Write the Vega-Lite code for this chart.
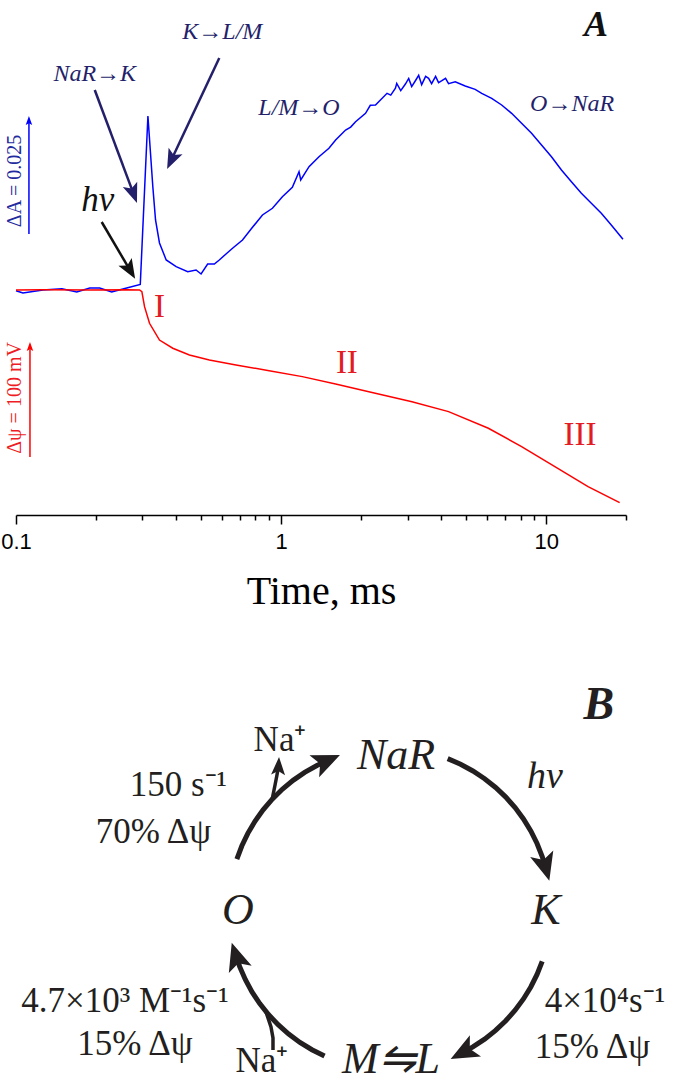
{
  "$schema": "https://vega.github.io/schema/vega-lite/v6.json",
  "width": 610,
  "height": 515,
  "autosize": {"type": "none"},
  "padding": {"left": 16, "top": 0, "right": 49, "bottom": 567},
  "background": "white",
  "config": {"view": {"stroke": null}},
  "resolve": {"scale": {"x": "independent", "y": "independent"}, "axis": {"x": "independent", "y": "independent"}},
  "layer": [
    {
      "data": {"values": [
        {"t":0.1,"v":-0.00015},{"t":0.1062,"v":-0.00065},{"t":0.1264,"v":0},{"t":0.149,"v":0.00028},{"t":0.1696,"v":-0.00043},{"t":0.1898,"v":0.00043},{"t":0.2069,"v":0.00043},{"t":0.2296,"v":-0.00043},{"t":0.2615,"v":0.00043},{"t":0.2943,"v":0.00119},{"t":0.3145,"v":0.0375},{"t":0.3282,"v":0.02226},{"t":0.336,"v":0.01509},{"t":0.3477,"v":0.01013},{"t":0.3686,"v":0.00647},{"t":0.4019,"v":0.00502},{"t":0.4444,"v":0.00394},{"t":0.4778,"v":0.00431},{"t":0.499,"v":0.00345},{"t":0.5284,"v":0.0056},{"t":0.5601,"v":0.0056},{"t":0.5846,"v":0.00647},{"t":0.6197,"v":0.00776},{"t":0.6559,"v":0.00899},{"t":0.7152,"v":0.01078},{"t":0.78,"v":0.01351},{"t":0.8506,"v":0.01616},{"t":0.9275,"v":0.01761},{"t":1.0113,"v":0.02011},{"t":1.1027,"v":0.02213},{"t":1.1685,"v":0.02549},{"t":1.1858,"v":0.02371},{"t":1.2744,"v":0.02657},{"t":1.3895,"v":0.02873},{"t":1.5152,"v":0.03054},{"t":1.6057,"v":0.03233},{"t":1.751,"v":0.03448},{"t":1.83,"v":0.0351},{"t":1.9094,"v":0.03627},{"t":2.082,"v":0.03808},{"t":2.17,"v":0.0398},{"t":2.2702,"v":0.03987},{"t":2.5097,"v":0.04239},{"t":2.592,"v":0.04201},{"t":2.6997,"v":0.04347},{"t":2.7302,"v":0.04452},{"t":2.8264,"v":0.04297},{"t":2.9439,"v":0.04439},{"t":3.0291,"v":0.0456},{"t":3.1089,"v":0.04383},{"t":3.2102,"v":0.0451},{"t":3.3033,"v":0.04625},{"t":3.3901,"v":0.04426},{"t":3.5093,"v":0.04603},{"t":3.6011,"v":0.04562},{"t":3.6961,"v":0.04448},{"t":3.8264,"v":0.04603},{"t":3.927,"v":0.04469},{"t":4.0408,"v":0.0451},{"t":4.1724,"v":0.0456},{"t":4.2821,"v":0.04448},{"t":4.5378,"v":0.04489},{"t":4.9478,"v":0.04396},{"t":5.395,"v":0.04325},{"t":5.7122,"v":0.04239},{"t":6.2286,"v":0.04131},{"t":6.7915,"v":0.03987},{"t":7.4057,"v":0.03808},{"t":8.0752,"v":0.03592},{"t":8.8055,"v":0.03377},{"t":9.6015,"v":0.03125},{"t":10.469,"v":0.02873},{"t":11.416,"v":0.02586},{"t":12.447,"v":0.02334},{"t":13.573,"v":0.02084},{"t":14.8,"v":0.01868},{"t":16.138,"v":0.01653},{"t":17.598,"v":0.01401},{"t":19.48,"v":0.01093}
      ]},
      "mark": {"type": "line", "color": "#0000ff", "strokeWidth": 1.5},
      "encoding": {
        "x": {"field": "t", "type": "quantitative", "scale": {"type": "log", "domain": [0.1, 20], "nice": false},
          "axis": {
            "orient": "bottom",
            "values": [0.1, 1, 10],
            "labelExpr": "datum.value == 0.1 ? '0.1' : (datum.value == 1 ? '1' : '10')",
            "tickSize": 9,
            "tickColor": "black", "tickWidth": 1.5, "domainColor": "black", "domainWidth": 1.5,
            "labelFont": "Liberation Sans", "labelFontSize": 22, "labelColor": "black", "labelPadding": 7,
            "labelFlush": false, "labelOverlap": false, "grid": false,
            "title": "Time, ms", "titleFont": "Liberation Serif", "titleFontSize": 40, "titleFontWeight": "normal",
            "titleColor": "black", "titlePadding": 19
          }},
        "y": {"field": "v", "type": "quantitative", "scale": {"domain": [-0.0485, 0.0625], "nice": false, "zero": false}, "axis": null}
      }
    },
    {
      "data": {"values": [
        {"t":0.1,"mv":0},{"t":0.1264,"mv":0.3},{"t":0.1898,"mv":0},{"t":0.2615,"mv":0.3},{"t":0.2925,"mv":0},{"t":0.2984,"mv":-1.5},{"t":0.3054,"mv":-14.6},{"t":0.3189,"mv":-29.2},{"t":0.3477,"mv":-43.9},{"t":0.3903,"mv":-51.1},{"t":0.451,"mv":-57.0},{"t":0.5362,"mv":-61.4},{"t":0.6757,"mv":-65.8},{"t":0.9014,"mv":-70.8},{"t":1.2025,"mv":-76.0},{"t":1.6057,"mv":-82.4},{"t":2.1424,"mv":-89.2},{"t":3.117,"mv":-98.0},{"t":4.2821,"mv":-106.7},{"t":6.052,"mv":-121.3},{"t":8.0752,"mv":-137.4},{"t":10.783,"mv":-155.0},{"t":14.383,"mv":-172.5},{"t":18.927,"mv":-186.5}
      ]},
      "mark": {"type": "line", "color": "#ff0000", "strokeWidth": 1.5},
      "encoding": {
        "x": {"field": "t", "type": "quantitative", "scale": {"type": "log", "domain": [0.1, 20], "nice": false},
          "axis": {
            "orient": "bottom",
            "values": [0.2,0.3,0.4,0.5,0.6,0.7,0.8,0.9,2,3,4,5,6,7,8,9,20],
            "labels": false, "domain": false, "grid": false, "title": null,
            "tickSize": 5, "tickColor": "black", "tickWidth": 1.5
          }},
        "y": {"field": "mv", "type": "quantitative", "scale": {"domain": [-197.4, 254.4], "nice": false, "zero": false}, "axis": null}
      }
    },
    {
      "data": {"values": [
        {"t":0.6,"v":0.0556,"s":"K→L/M"},
        {"t":0.1982,"v":0.04655,"s":"NaR→K"},
        {"t":1.1685,"v":0.03922,"s":"L/M→O"},
        {"t":12.523,"v":0.04008,"s":"O→NaR"}
      ]},
      "mark": {"type": "text", "font": "Liberation Serif", "fontStyle": "italic", "fontSize": 24, "color": "#241f6b", "align": "center", "baseline": "middle"},
      "encoding": {
        "x": {"field": "t", "type": "quantitative", "scale": {"type": "log", "domain": [0.1, 20], "nice": false}, "axis": null},
        "y": {"field": "v", "type": "quantitative", "scale": {"domain": [-0.0485, 0.0625], "nice": false, "zero": false}, "axis": null},
        "text": {"field": "s"}
      }
    },
    {
      "data": {"values": [{"t":0.2034,"v":0.0194,"s":"hν"}]},
      "mark": {"type": "text", "font": "Liberation Serif", "fontStyle": "italic", "fontSize": 35, "color": "#111111", "align": "center", "baseline": "middle"},
      "encoding": {
        "x": {"field": "t", "type": "quantitative", "scale": {"type": "log", "domain": [0.1, 20], "nice": false}, "axis": null},
        "y": {"field": "v", "type": "quantitative", "scale": {"domain": [-0.0485, 0.0625], "nice": false, "zero": false}, "axis": null},
        "text": {"field": "s"}
      }
    },
    {
      "data": {"values": [{"t":15.415,"v":0.05711,"s":"A"}]},
      "mark": {"type": "text", "font": "Liberation Serif", "fontStyle": "italic", "fontWeight": "bold", "fontSize": 36, "color": "#111111", "align": "center", "baseline": "middle"},
      "encoding": {
        "x": {"field": "t", "type": "quantitative", "scale": {"type": "log", "domain": [0.1, 20], "nice": false}, "axis": null},
        "y": {"field": "v", "type": "quantitative", "scale": {"domain": [-0.0485, 0.0625], "nice": false, "zero": false}, "axis": null},
        "text": {"field": "s"}
      }
    },
    {
      "data": {"values": [{"t":0.09914,"v":0.02349,"s":"ΔA = 0.025"}]},
      "mark": {"type": "text", "font": "Liberation Serif", "fontSize": 20, "color": "#1f2b9e", "align": "center", "baseline": "middle", "angle": 270},
      "encoding": {
        "x": {"field": "t", "type": "quantitative", "scale": {"type": "log", "domain": [0.1, 20], "nice": false}, "axis": null},
        "y": {"field": "v", "type": "quantitative", "scale": {"domain": [-0.0485, 0.0625], "nice": false, "zero": false}, "axis": null},
        "text": {"field": "s"}
      }
    },
    {
      "data": {"values": [{"t":0.1119,"v":0.01207,"v2":0.0362}]},
      "mark": {"type": "rule", "color": "#0000ff", "strokeWidth": 1.5},
      "encoding": {
        "x": {"field": "t", "type": "quantitative", "scale": {"type": "log", "domain": [0.1, 20], "nice": false}, "axis": null},
        "y": {"field": "v", "type": "quantitative", "scale": {"domain": [-0.0485, 0.0625], "nice": false, "zero": false}, "axis": null},
        "y2": {"field": "v2"}
      }
    },
    {
      "data": {"values": [{"t":0.1119,"v":0.03642}]},
      "mark": {"type": "point", "shape": "M0,-1L0.65,0.8L0,0.45L-0.65,0.8Z", "filled": true, "size": 100, "angle": 0, "color": "#0000ff", "opacity": 1},
      "encoding": {
        "x": {"field": "t", "type": "quantitative", "scale": {"type": "log", "domain": [0.1, 20], "nice": false}, "axis": null},
        "y": {"field": "v", "type": "quantitative", "scale": {"domain": [-0.0485, 0.0625], "nice": false, "zero": false}, "axis": null}
      }
    },
    {
      "data": {"values": [
        {"t":0.1982,"v":0.0431,"t2":0.2765,"v2":0.02099},
        {"t":0.5846,"v":0.05,"t2":0.387,"v2":0.02823}
      ]},
      "mark": {"type": "rule", "color": "#241f6b", "strokeWidth": 2.5},
      "encoding": {
        "x": {"field": "t", "type": "quantitative", "scale": {"type": "log", "domain": [0.1, 20], "nice": false}, "axis": null},
        "x2": {"field": "t2"},
        "y": {"field": "v", "type": "quantitative", "scale": {"domain": [-0.0485, 0.0625], "nice": false, "zero": false}, "axis": null},
        "y2": {"field": "v2"}
      }
    },
    {
      "data": {"values": [{"t":0.2105,"v":0.01465,"t2":0.2681,"v2":0.00444}]},
      "mark": {"type": "rule", "color": "#111111", "strokeWidth": 2.5},
      "encoding": {
        "x": {"field": "t", "type": "quantitative", "scale": {"type": "log", "domain": [0.1, 20], "nice": false}, "axis": null},
        "x2": {"field": "t2"},
        "y": {"field": "v", "type": "quantitative", "scale": {"domain": [-0.0485, 0.0625], "nice": false, "zero": false}, "axis": null},
        "y2": {"field": "v2"}
      }
    },
    {
      "data": {"values": [{"t":0.2765,"v":0.02099}]},
      "mark": {"type": "point", "shape": "M0,-1L0.7,0.8L0,0.4L-0.7,0.8Z", "filled": true, "size": 484, "angle": 159.4, "color": "#241f6b", "opacity": 1},
      "encoding": {
        "x": {"field": "t", "type": "quantitative", "scale": {"type": "log", "domain": [0.1, 20], "nice": false}, "axis": null},
        "y": {"field": "v", "type": "quantitative", "scale": {"domain": [-0.0485, 0.0625], "nice": false, "zero": false}, "axis": null}
      }
    },
    {
      "data": {"values": [{"t":0.387,"v":0.02823}]},
      "mark": {"type": "point", "shape": "M0,-1L0.7,0.8L0,0.4L-0.7,0.8Z", "filled": true, "size": 484, "angle": 205.3, "color": "#241f6b", "opacity": 1},
      "encoding": {
        "x": {"field": "t", "type": "quantitative", "scale": {"type": "log", "domain": [0.1, 20], "nice": false}, "axis": null},
        "y": {"field": "v", "type": "quantitative", "scale": {"domain": [-0.0485, 0.0625], "nice": false, "zero": false}, "axis": null}
      }
    },
    {
      "data": {"values": [{"t":0.2681,"v":0.00444}]},
      "mark": {"type": "point", "shape": "M0,-1L0.7,0.8L0,0.4L-0.7,0.8Z", "filled": true, "size": 484, "angle": 149.5, "color": "#111111", "opacity": 1},
      "encoding": {
        "x": {"field": "t", "type": "quantitative", "scale": {"type": "log", "domain": [0.1, 20], "nice": false}, "axis": null},
        "y": {"field": "v", "type": "quantitative", "scale": {"domain": [-0.0485, 0.0625], "nice": false, "zero": false}, "axis": null}
      }
    },
    {
      "data": {"values": [
        {"t":0.3477,"mv":-14.9,"s":"I"},
        {"t":1.7705,"mv":-64.0,"s":"II"},
        {"t":13.421,"mv":-127.2,"s":"III"}
      ]},
      "mark": {"type": "text", "font": "Liberation Serif", "fontSize": 33, "color": "#e31b23", "align": "center", "baseline": "middle"},
      "encoding": {
        "x": {"field": "t", "type": "quantitative", "scale": {"type": "log", "domain": [0.1, 20], "nice": false}, "axis": null},
        "y": {"field": "mv", "type": "quantitative", "scale": {"domain": [-197.4, 254.4], "nice": false, "zero": false}, "axis": null},
        "text": {"field": "s"}
      }
    },
    {
      "data": {"values": [{"t":0.09914,"mv":-94.7,"s":"Δψ = 100 mV"}]},
      "mark": {"type": "text", "font": "Liberation Serif", "fontSize": 20, "color": "#ee1c24", "align": "center", "baseline": "middle", "angle": 270},
      "encoding": {
        "x": {"field": "t", "type": "quantitative", "scale": {"type": "log", "domain": [0.1, 20], "nice": false}, "axis": null},
        "y": {"field": "mv", "type": "quantitative", "scale": {"domain": [-197.4, 254.4], "nice": false, "zero": false}, "axis": null},
        "text": {"field": "s"}
      }
    },
    {
      "data": {"values": [{"t":0.1129,"mv":-146.5,"mv2":-52}]},
      "mark": {"type": "rule", "color": "#ff0000", "strokeWidth": 1.5},
      "encoding": {
        "x": {"field": "t", "type": "quantitative", "scale": {"type": "log", "domain": [0.1, 20], "nice": false}, "axis": null},
        "y": {"field": "mv", "type": "quantitative", "scale": {"domain": [-197.4, 254.4], "nice": false, "zero": false}, "axis": null},
        "y2": {"field": "mv2"}
      }
    },
    {
      "data": {"values": [{"t":0.1129,"mv":-50.0}]},
      "mark": {"type": "point", "shape": "M0,-1L0.65,0.8L0,0.45L-0.65,0.8Z", "filled": true, "size": 100, "angle": 0, "color": "#ff0000", "opacity": 1},
      "encoding": {
        "x": {"field": "t", "type": "quantitative", "scale": {"type": "log", "domain": [0.1, 20], "nice": false}, "axis": null},
        "y": {"field": "mv", "type": "quantitative", "scale": {"domain": [-197.4, 254.4], "nice": false, "zero": false}, "axis": null}
      }
    },
    {
      "data": {"values": [
        {"arc":1,"i":0,"u":0.3584,"v":0.9336},{"arc":1,"i":1,"u":0.4384,"v":0.8988},{"arc":1,"i":2,"u":0.515,"v":0.8572},{"arc":1,"i":3,"u":0.5878,"v":0.809},{"arc":1,"i":4,"u":0.6561,"v":0.7547},{"arc":1,"i":5,"u":0.7193,"v":0.6947},{"arc":1,"i":6,"u":0.7771,"v":0.6293},{"arc":1,"i":7,"u":0.829,"v":0.5592},{"arc":1,"i":8,"u":0.8746,"v":0.4848},{"arc":1,"i":9,"u":0.9135,"v":0.4067},{"arc":1,"i":10,"u":0.9455,"v":0.3256},{"arc":1,"i":11,"u":0.9659,"v":0.2588},
        {"arc":2,"i":0,"u":0.9455,"v":-0.3256},{"arc":2,"i":1,"u":0.9135,"v":-0.4067},{"arc":2,"i":2,"u":0.8746,"v":-0.4848},{"arc":2,"i":3,"u":0.829,"v":-0.5592},{"arc":2,"i":4,"u":0.7771,"v":-0.6293},{"arc":2,"i":5,"u":0.7193,"v":-0.6947},{"arc":2,"i":6,"u":0.6561,"v":-0.7547},{"arc":2,"i":7,"u":0.5878,"v":-0.809},{"arc":2,"i":8,"u":0.515,"v":-0.8572},{"arc":2,"i":9,"u":0.454,"v":-0.891},
        {"arc":3,"i":0,"u":-0.4067,"v":-0.9135},{"arc":3,"i":1,"u":-0.4848,"v":-0.8746},{"arc":3,"i":2,"u":-0.5592,"v":-0.829},{"arc":3,"i":3,"u":-0.6293,"v":-0.7771},{"arc":3,"i":4,"u":-0.6947,"v":-0.7193},{"arc":3,"i":5,"u":-0.7547,"v":-0.6561},{"arc":3,"i":6,"u":-0.809,"v":-0.5878},{"arc":3,"i":7,"u":-0.8572,"v":-0.515},{"arc":3,"i":8,"u":-0.8988,"v":-0.4384},{"arc":3,"i":9,"u":-0.9336,"v":-0.3584},{"arc":3,"i":10,"u":-0.9563,"v":-0.2924},
        {"arc":4,"i":0,"u":-0.9511,"v":0.309},{"arc":4,"i":1,"u":-0.9205,"v":0.3907},{"arc":4,"i":2,"u":-0.8829,"v":0.4695},{"arc":4,"i":3,"u":-0.8387,"v":0.5446},{"arc":4,"i":4,"u":-0.788,"v":0.6157},{"arc":4,"i":5,"u":-0.7314,"v":0.682},{"arc":4,"i":6,"u":-0.6691,"v":0.7431},{"arc":4,"i":7,"u":-0.6018,"v":0.7986},{"arc":4,"i":8,"u":-0.5299,"v":0.848},{"arc":4,"i":9,"u":-0.454,"v":0.891},{"arc":4,"i":10,"u":-0.3907,"v":0.9205}
      ]},
      "mark": {"type": "line", "color": "#231f20", "strokeWidth": 5},
      "encoding": {
        "x": {"field": "u", "type": "quantitative", "scale": {"domain": [-2.323, 1.466], "nice": false, "zero": false}, "axis": null},
        "y": {"field": "v", "type": "quantitative", "scale": {"domain": [2.447, 5.646], "nice": false, "zero": false}, "axis": null},
        "detail": {"field": "arc"},
        "order": {"field": "i"}
      }
    },
    {
      "data": {"values": [
        {"b":1,"i":0,"u":-0.7317,"v":0.682},{"b":1,"i":1,"u":-0.714,"v":0.77},{"b":1,"i":2,"u":-0.702,"v":0.832},{"b":1,"i":3,"u":-0.695,"v":0.87},
        {"b":2,"i":0,"u":-0.7267,"v":-0.8758},{"b":2,"i":1,"u":-0.7267,"v":-0.8012},{"b":2,"i":2,"u":-0.7391,"v":-0.7329},{"b":2,"i":3,"u":-0.7578,"v":-0.677},{"b":2,"i":4,"u":-0.77,"v":-0.64}
      ]},
      "mark": {"type": "line", "color": "#231f20", "strokeWidth": 3.5},
      "encoding": {
        "x": {"field": "u", "type": "quantitative", "scale": {"domain": [-2.323, 1.466], "nice": false, "zero": false}, "axis": null},
        "y": {"field": "v", "type": "quantitative", "scale": {"domain": [2.447, 5.646], "nice": false, "zero": false}, "axis": null},
        "detail": {"field": "b"},
        "order": {"field": "i"}
      }
    },
    {
      "data": {"values": [{"u":0.9627,"v":0.2706}]},
      "mark": {"type": "point", "shape": "M0,-1L0.75,0.75L0,0.35L-0.75,0.75Z", "filled": true, "size": 1024, "angle": 164.3, "color": "#231f20", "opacity": 1},
      "encoding": {
        "x": {"field": "u", "type": "quantitative", "scale": {"domain": [-2.323, 1.466], "nice": false, "zero": false}, "axis": null},
        "y": {"field": "v", "type": "quantitative", "scale": {"domain": [2.447, 5.646], "nice": false, "zero": false}, "axis": null}
      }
    },
    {
      "data": {"values": [{"u":0.4648,"v":-0.8854}]},
      "mark": {"type": "point", "shape": "M0,-1L0.75,0.75L0,0.35L-0.75,0.75Z", "filled": true, "size": 1024, "angle": 242.3, "color": "#231f20", "opacity": 1},
      "encoding": {
        "x": {"field": "u", "type": "quantitative", "scale": {"domain": [-2.323, 1.466], "nice": false, "zero": false}, "axis": null},
        "y": {"field": "v", "type": "quantitative", "scale": {"domain": [2.447, 5.646], "nice": false, "zero": false}, "axis": null}
      }
    },
    {
      "data": {"values": [{"u":-0.9527,"v":-0.304}]},
      "mark": {"type": "point", "shape": "M0,-1L0.75,0.75L0,0.35L-0.75,0.75Z", "filled": true, "size": 1024, "angle": 342.3, "color": "#231f20", "opacity": 1},
      "encoding": {
        "x": {"field": "u", "type": "quantitative", "scale": {"domain": [-2.323, 1.466], "nice": false, "zero": false}, "axis": null},
        "y": {"field": "v", "type": "quantitative", "scale": {"domain": [2.447, 5.646], "nice": false, "zero": false}, "axis": null}
      }
    },
    {
      "data": {"values": [{"u":-0.4019,"v":0.9157}]},
      "mark": {"type": "point", "shape": "M0,-1L0.75,0.75L0,0.35L-0.75,0.75Z", "filled": true, "size": 1024, "angle": 66.3, "color": "#231f20", "opacity": 1},
      "encoding": {
        "x": {"field": "u", "type": "quantitative", "scale": {"domain": [-2.323, 1.466], "nice": false, "zero": false}, "axis": null},
        "y": {"field": "v", "type": "quantitative", "scale": {"domain": [2.447, 5.646], "nice": false, "zero": false}, "axis": null}
      }
    },
    {
      "data": {"values": [{"u":-0.6925,"v":0.882}]},
      "mark": {"type": "point", "shape": "M0,-1L0.7,0.8L0,0.4L-0.7,0.8Z", "filled": true, "size": 400, "angle": 3, "color": "#231f20", "opacity": 1},
      "encoding": {
        "x": {"field": "u", "type": "quantitative", "scale": {"domain": [-2.323, 1.466], "nice": false, "zero": false}, "axis": null},
        "y": {"field": "v", "type": "quantitative", "scale": {"domain": [2.447, 5.646], "nice": false, "zero": false}, "axis": null}
      }
    },
    {
      "data": {"values": [
        {"u":0.0373,"v":0.9503,"s":"NaR"},
        {"u":0.969,"v":-0.0124,"s":"K"},
        {"u":-0.944,"v":-0.0124,"s":"O"},
        {"u":0.0062,"v":-0.938,"s":"M⇋L"}
      ]},
      "mark": {"type": "text", "font": "Liberation Serif", "fontStyle": "italic", "fontSize": 44, "color": "#231f20", "align": "center", "baseline": "middle"},
      "encoding": {
        "x": {"field": "u", "type": "quantitative", "scale": {"domain": [-2.323, 1.466], "nice": false, "zero": false}, "axis": null},
        "y": {"field": "v", "type": "quantitative", "scale": {"domain": [2.447, 5.646], "nice": false, "zero": false}, "axis": null},
        "text": {"field": "s"}
      }
    },
    {
      "data": {"values": [{"u":0.963,"v":0.82,"s":"hν"}]},
      "mark": {"type": "text", "font": "Liberation Serif", "fontStyle": "italic", "fontSize": 38, "color": "#231f20", "align": "center", "baseline": "middle"},
      "encoding": {
        "x": {"field": "u", "type": "quantitative", "scale": {"domain": [-2.323, 1.466], "nice": false, "zero": false}, "axis": null},
        "y": {"field": "v", "type": "quantitative", "scale": {"domain": [2.447, 5.646], "nice": false, "zero": false}, "axis": null},
        "text": {"field": "s"}
      }
    },
    {
      "data": {"values": [{"u":1.298,"v":1.267,"s":"B"}]},
      "mark": {"type": "text", "font": "Liberation Serif", "fontStyle": "italic", "fontWeight": "bold", "fontSize": 46, "color": "#231f20", "align": "center", "baseline": "middle"},
      "encoding": {
        "x": {"field": "u", "type": "quantitative", "scale": {"domain": [-2.323, 1.466], "nice": false, "zero": false}, "axis": null},
        "y": {"field": "v", "type": "quantitative", "scale": {"domain": [2.447, 5.646], "nice": false, "zero": false}, "axis": null},
        "text": {"field": "s"}
      }
    },
    {
      "data": {"values": [
        {"u":-1.314,"v":0.77,"s":"150 s⁻¹"},
        {"u":-1.469,"v":0.478,"s":"70% Δψ"},
        {"u":-1.646,"v":-0.571,"s":"4.7×10³ M⁻¹s⁻¹"},
        {"u":-1.584,"v":-0.839,"s":"15% Δψ"},
        {"u":1.335,"v":-0.571,"s":"4×10⁴s⁻¹"},
        {"u":1.258,"v":-0.857,"s":"15% Δψ"},
        {"u":-0.683,"v":1.05,"s":"Na⁺"},
        {"u":-0.795,"v":-0.945,"s":"Na⁺"}
      ]},
      "mark": {"type": "text", "font": "Liberation Serif", "fontSize": 35, "color": "#231f20", "align": "center", "baseline": "middle"},
      "encoding": {
        "x": {"field": "u", "type": "quantitative", "scale": {"domain": [-2.323, 1.466], "nice": false, "zero": false}, "axis": null},
        "y": {"field": "v", "type": "quantitative", "scale": {"domain": [2.447, 5.646], "nice": false, "zero": false}, "axis": null},
        "text": {"field": "s"}
      }
    }
  ]
}
